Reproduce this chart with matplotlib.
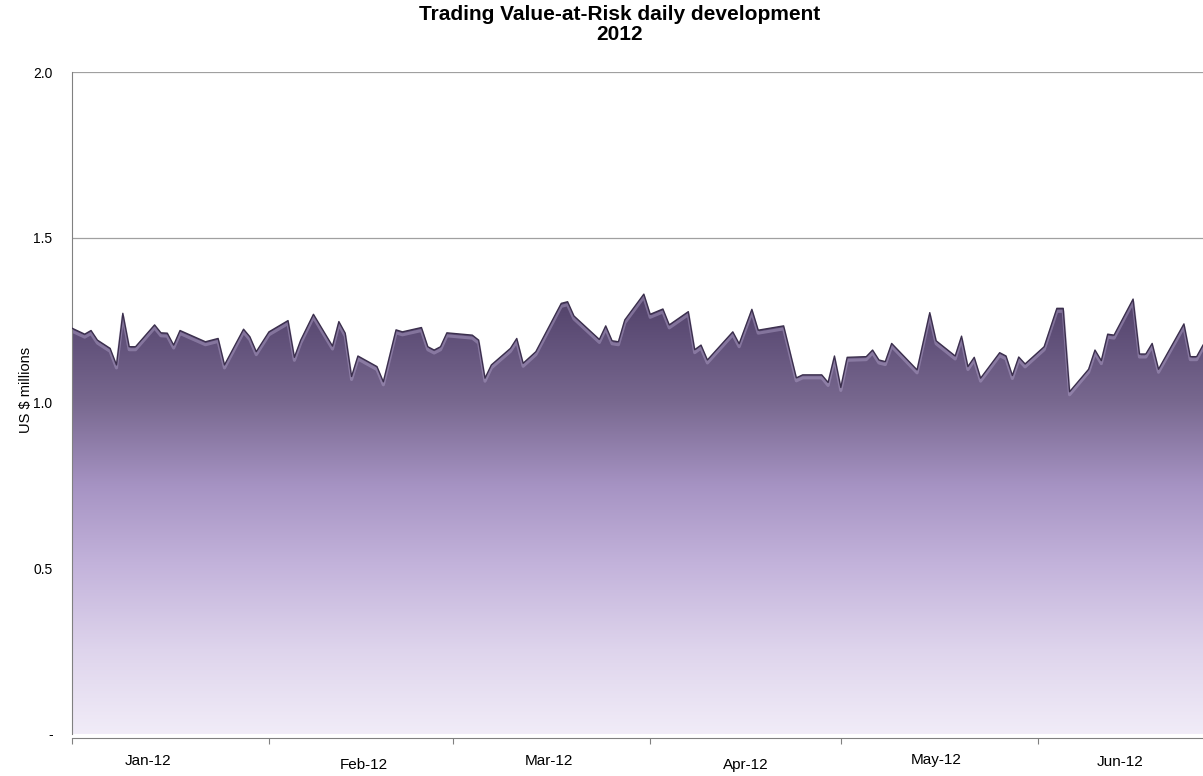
import numpy as np
import pandas as pd
import matplotlib
matplotlib.use("Agg")
import matplotlib.pyplot as plt
import matplotlib.dates as mdates
from matplotlib.colors import LinearSegmentedColormap
from matplotlib.patches import Polygon
from matplotlib import transforms

plt.rcParams['font.family'] = ['Liberation Sans', 'DejaVu Sans']

# daily trading VaR, US$ millions
dates = [
    "2012-01-01", "2012-01-03", "2012-01-04", "2012-01-05", "2012-01-07",
    "2012-01-08", "2012-01-09", "2012-01-10", "2012-01-11", "2012-01-14",
    "2012-01-15", "2012-01-16", "2012-01-17", "2012-01-18", "2012-01-22",
    "2012-01-24", "2012-01-25", "2012-01-28", "2012-01-29", "2012-01-30",
    "2012-02-01", "2012-02-04", "2012-02-05", "2012-02-06", "2012-02-08",
    "2012-02-11", "2012-02-12", "2012-02-13", "2012-02-14", "2012-02-15",
    "2012-02-18", "2012-02-19", "2012-02-21", "2012-02-22", "2012-02-25",
    "2012-02-26", "2012-02-27", "2012-02-28", "2012-02-29", "2012-03-04",
    "2012-03-05", "2012-03-06", "2012-03-07", "2012-03-10", "2012-03-11",
    "2012-03-12", "2012-03-14", "2012-03-18", "2012-03-19", "2012-03-20",
    "2012-03-24", "2012-03-25", "2012-03-26", "2012-03-27", "2012-03-28",
    "2012-03-31", "2012-04-01", "2012-04-03", "2012-04-04", "2012-04-07",
    "2012-04-08", "2012-04-09", "2012-04-10", "2012-04-14", "2012-04-15",
    "2012-04-17", "2012-04-18", "2012-04-22", "2012-04-24", "2012-04-25",
    "2012-04-28", "2012-04-29", "2012-04-30", "2012-05-01", "2012-05-02",
    "2012-05-05", "2012-05-06", "2012-05-07", "2012-05-08", "2012-05-09",
    "2012-05-13", "2012-05-15", "2012-05-16", "2012-05-19", "2012-05-20",
    "2012-05-21", "2012-05-22", "2012-05-23", "2012-05-26", "2012-05-27",
    "2012-05-28", "2012-05-29", "2012-05-30", "2012-06-02", "2012-06-04",
    "2012-06-05", "2012-06-06", "2012-06-09", "2012-06-10", "2012-06-11",
    "2012-06-12", "2012-06-13", "2012-06-16", "2012-06-17", "2012-06-18",
    "2012-06-19", "2012-06-20", "2012-06-24", "2012-06-25", "2012-06-26",
    "2012-06-27",
]
var = [
    1.226, 1.208, 1.219, 1.190, 1.165, 1.115, 1.271, 1.170, 1.170, 1.236,
    1.212, 1.211, 1.175, 1.219, 1.185, 1.195, 1.115, 1.223, 1.200, 1.155,
    1.215, 1.249, 1.138, 1.190, 1.268, 1.172, 1.246, 1.211, 1.080, 1.142,
    1.110, 1.064, 1.221, 1.215, 1.228, 1.170, 1.160, 1.170, 1.212, 1.205,
    1.190, 1.075, 1.115, 1.165, 1.195, 1.120, 1.155, 1.301, 1.306, 1.263,
    1.192, 1.233, 1.188, 1.185, 1.251, 1.329, 1.268, 1.284, 1.236, 1.276,
    1.161, 1.175, 1.130, 1.215, 1.179, 1.283, 1.220, 1.233, 1.076, 1.085,
    1.085, 1.062, 1.142, 1.047, 1.138, 1.140, 1.160, 1.130, 1.125, 1.180,
    1.100, 1.273, 1.188, 1.142, 1.202, 1.110, 1.138, 1.075, 1.152, 1.142,
    1.083, 1.139, 1.118, 1.170, 1.286, 1.286, 1.034, 1.102, 1.160, 1.128,
    1.208, 1.205, 1.314, 1.148, 1.148, 1.180, 1.102, 1.239, 1.140, 1.140,
    1.175,
]

month_labels = ["Jan-12", "Feb-12", "Mar-12", "Apr-12", "May-12", "Jun-12"]
label_dates = ["2012-01-13", "2012-02-16", "2012-03-16",
               "2012-04-16", "2012-05-16", "2012-06-14"]
label_drop = [0, 4, 0, 4, -1, 1]  # Excel staggers them a little

y_ticks = [0, 0.5, 1.0, 1.5, 2.0]
y_ticklabels = ["-", "0.5", "1.0", "1.5", "2.0"]

x = mdates.date2num(pd.to_datetime(dates))
y = np.array(var)

fig = plt.figure(figsize=(12.03, 7.76), dpi=100)
ax = fig.add_axes([72 / 1203, 42 / 776, 1131 / 1203, 662 / 776])

# gridlines (only 1.5 and 2.0 show above the area)
for v in y_ticks[1:]:
    ax.axhline(v, color='#a0a0a0', lw=0.9, zorder=0)

# area with vertical purple gradient
verts = np.column_stack([np.r_[x, x[-1], x[0]], np.r_[y, 0, 0]])
patch = Polygon(verts, closed=True, facecolor='none', edgecolor='none')
ax.add_patch(patch)

cmap = LinearSegmentedColormap.from_list("vp", [
    (0.00, '#f1ecf8'),
    (0.19, '#ded4ec'),
    (0.38, '#c3b3db'),
    (0.56, '#a693c3'),
    (0.75, '#78688f'),
    (0.90, '#5f4f78'),
    (1.00, '#4f3f66'),
])
grad = np.linspace(0, 1, 256).reshape(-1, 1)
img = ax.imshow(grad, cmap=cmap, origin='lower', aspect='auto',
                extent=(x[0], x[-1], 0, 1.34), zorder=1)
img.set_clip_path(patch)

# bevel: soft highlight under the ridge, dark edge on top
hl = transforms.offset_copy(ax.transData, fig=fig, x=0, y=-3, units='dots')
ax.plot(x, y, color='#b3a4cc', lw=2.2, alpha=0.45, transform=hl, zorder=2,
        solid_joinstyle='round')
ax.plot(x, y, color='#3b2f4d', lw=1.0, zorder=3, solid_joinstyle='round')

ax.set_ylim(0, 2.0)
ax.set_xlim(x[0], x[-1])

# axes styling
for s in ['top', 'right']:
    ax.spines[s].set_visible(False)
ax.spines['left'].set_color('#808080')
ax.spines['bottom'].set_color('#808080')
ax.spines['bottom'].set_position(('outward', 3))

ax.set_yticks(y_ticks)
ax.set_yticklabels(y_ticklabels, fontsize=10)
ax.tick_params(axis='y', length=0, pad=14)
ax.set_ylabel("US $ millions", fontsize=10.5)
ax.yaxis.set_label_coords(-39 / 1131, 0.52)

ax.xaxis.set_major_locator(mdates.MonthLocator())
ax.xaxis.set_major_formatter(plt.NullFormatter())
ax.tick_params(axis='x', length=4, color='#808080', direction='out')

tr = transforms.blended_transform_factory(ax.transData, ax.transAxes)
for lab, d, dy in zip(month_labels, label_dates, label_drop):
    ax.text(mdates.date2num(pd.Timestamp(d)), -0.030 - dy / 662, lab,
            transform=tr, ha='center', va='top', fontsize=11)

fig.text(620 / 1203, 1 - 15 / 776, "Trading Value-at-Risk daily development",
         ha='center', va='center', fontsize=15, fontweight='bold')
fig.text(620 / 1203, 1 - 35 / 776, "2012",
         ha='center', va='center', fontsize=15, fontweight='bold')

fig.savefig("out.png", dpi=100)
